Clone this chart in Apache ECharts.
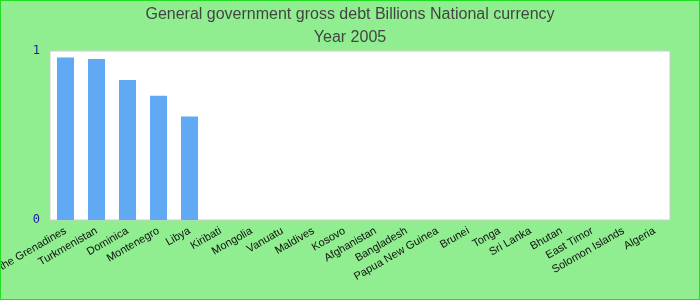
<!DOCTYPE html>
<html><head><meta charset="utf-8">
<script src="https://cdn.jsdelivr.net/npm/echarts@6/dist/echarts.min.js"></script>
<style>html,body{margin:0;padding:0;background:#90EE90}
#c{width:700px;height:300px;box-sizing:border-box;border:1px solid #22dd22}</style>
</head><body><div id="c"></div>
<script>
const categories = ["Saint Vincent and the Grenadines","Turkmenistan","Dominica","Montenegro","Libya","Kiribati","Mongolia","Vanuatu","Maldives","Kosovo","Afghanistan","Bangladesh","Papua New Guinea","Brunei","Tonga","Sri Lanka","Bhutan","East Timor","Solomon Islands","Algeria"];
const values = [0.961,0.953,0.829,0.735,0.612,0,0,0,0,0,0,0,0,0,0,0,0,0,0,0];
const titleLines = ["General government gross debt Billions National currency","Year 2005"];
const chart = echarts.init(document.getElementById('c'));
chart.setOption({
  backgroundColor:'#90EE90',
  animation:false,
  title:[
    {text:titleLines[0],left:'center',top:1,textStyle:{fontFamily:'Liberation Sans, Arial',fontSize:16,fontWeight:'normal',color:'#444'}},
    {text:titleLines[1],left:'center',top:24,textStyle:{fontFamily:'Liberation Sans, Arial',fontSize:16,fontWeight:'normal',color:'#444'}}
  ],
  grid:{left:49,right:29,top:50,bottom:79,containLabel:false,outerBoundsMode:'none',show:true,backgroundColor:'#fff',borderColor:'#ccc',borderWidth:1},
  xAxis:{type:'category',data:categories,
    axisLine:{show:false},axisTick:{show:false},
    axisLabel:{interval:0,rotate:30,fontSize:11,color:'#111',fontFamily:'Liberation Sans, Arial',margin:10}},
  yAxis:{type:'value',min:0,max:1,interval:1,
    axisLine:{show:false},axisTick:{show:false},splitLine:{show:false},
    axisLabel:{fontFamily:'DejaVu Sans Mono, monospace',fontSize:12,color:'#1a1aa0',margin:10}},
  series:[{type:'bar',data:values,barWidth:'55%',itemStyle:{color:'#61a8f5'}}]
});
</script></body></html>
